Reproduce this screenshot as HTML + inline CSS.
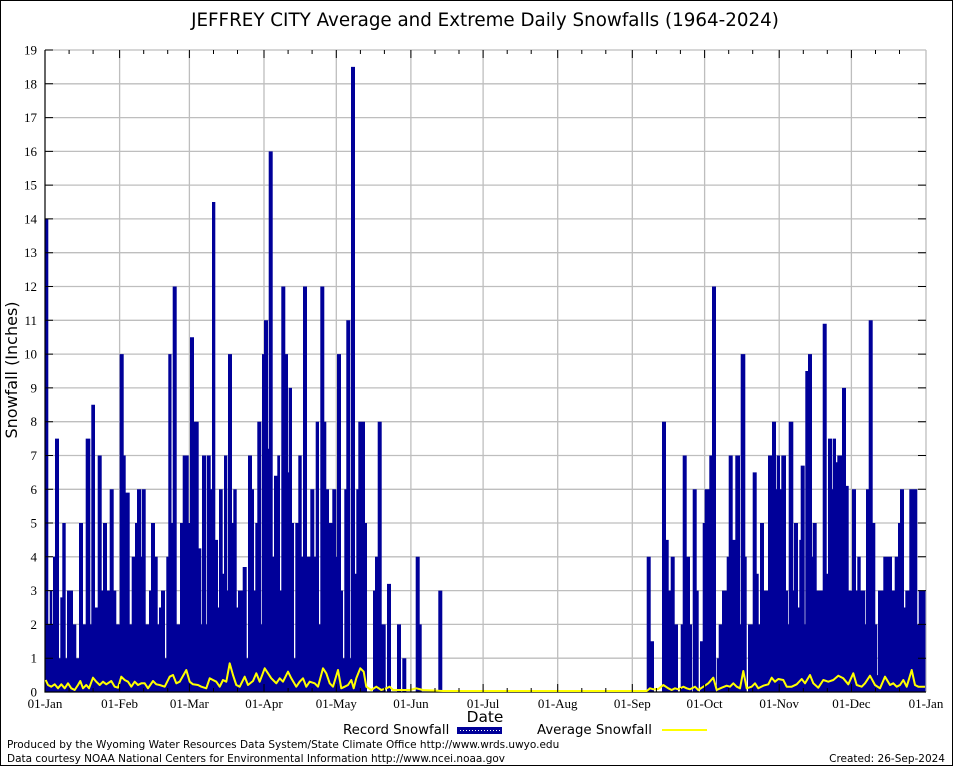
<!DOCTYPE html>
<html><head><meta charset="utf-8"><style>
html,body{margin:0;padding:0;background:#fff;}
svg{display:block;}
.t{font-family:"Liberation Serif",serif;font-size:13px;fill:#000;}
.s{font-family:"DejaVu Sans","Liberation Sans",sans-serif;fill:#000;}
</style></head><body>
<svg width="954" height="768" viewBox="0 0 954 768" xmlns="http://www.w3.org/2000/svg">
<defs>
<pattern id="hp" width="3" height="3" patternUnits="userSpaceOnUse">
<rect width="3" height="3" fill="#000099"/><rect x="1" y="1" width="1" height="1" fill="#fff"/>
</pattern>
</defs>
<rect x="0" y="0" width="954" height="768" fill="#fff"/>
<rect x="0.5" y="0.5" width="952" height="765" fill="none" stroke="#000" stroke-width="1"/>

<!-- grid -->
<g stroke="#bebebe" stroke-width="1.3" fill="none">
<path d="M45 658.2H926M45 624.4H926M45 590.6H926M45 556.8H926M45 523H926M45 489.3H926M45 455.5H926M45 421.7H926M45 387.9H926M45 354.1H926M45 320.3H926M45 286.5H926M45 252.7H926M45 218.9H926M45 185.1H926M45 151.4H926M45 117.6H926M45 83.8H926M45 50H926"/>
<path d="M119.6 50V692M189.4 50V692M264 50V692M336.3 50V692M410.9 50V692M483.1 50V692M557.7 50V692M632.3 50V692M704.6 50V692M779.2 50V692M851.4 50V692M926 50V692"/>
</g>

<!-- bars -->
<path fill="#000099" d="M45 692V218.9H48.3V624.4H49.7V590.6H52.3V624.4H53V556.8H55V438.6H59V658.2H60.3V597.4H62.3V523H65.7V658.2H67V590.6H73V624.4H76.3V658.2H79V523H83V624.4H85.7V438.6H90.3V624.4H91.3V404.8H95V607.5H97.7V455.5H101.7V590.6H103V523H107V590.6H109.7V489.3H113.7V590.6H116.3V624.4H119.7V354.1H123.7V455.5H125.7V492.6H129.7V624.4H131.7V556.8H135V523H137V489.3H141V556.8H141.7V489.3H145.7V624.4H149V590.6H151V523H155V556.8H157.7V624.4H159V607.5H161V590.6H165V658.2H166.3V556.8H168.3V354.1H171.5V523H172.7V286.5H176.7V624.4H180V523H182.7V455.5H188.7V523H190V337.2H194V421.7H198.7V548.4H201.3V624.4H202V455.5H206V624.4H206.7V455.5H210.7V489.3H212V202H215.3V539.9H218V607.5H219V489.3H222.7V573.7H224V455.5H227.3V590.6H228V354.1H232V523H233.3V489.3H236.7V607.5H238V590.6H242.7V567H246.7V658.2H248V455.5H252V489.3H254V590.6H255.3V523H257.3V421.7H261.3V624.4H262V354.1H264V320.3H268V448.7H268.7V151.4H272.7V556.8H274V475.7H277.3V455.5H280V590.6H281.3V286.5H285.3V354.1H288V472.4H288.7V387.9H292V523H294V658.2H295.3V523H298.3V455.5H301.7V556.8H303V286.5H307V556.8H310.3V489.3H314.3V556.8H315.7V421.7H319V624.4H320.3V286.5H324.3V421.7H326.3V489.3H329V523H332.3V489.3H336.3V556.8H337V354.1H341V590.6H343V658.2H344.3V489.3H346.3V320.3H350.3V658.2H351V66.9H355V573.7H356.3V489.3H358.3V421.7H365V523H367V692H373V590.6H375V556.8H377.7V421.7H381.7V624.4H385.7V692H387V583.9H391V692H397V624.4H401V692H402.3V658.2H406.3V692H415.7V556.8H419.7V624.4H421.7V692H438.3V590.6H442.3V692H646.7V556.8H650.7V641.3H654V692H662V421.7H666V539.9H668.7V590.6H670.7V556.8H674.7V624.4H678V692H680.7V624.4H682.7V455.5H686.7V556.8H690V624.4H692V692H692.7V489.3H696.7V590.6H698.7V692H700V641.3H702.7V523H704.7V489.3H709.3V455.5H712V286.5H716V692H716.7V658.2H718.7V624.4H722V590.6H726.7V556.8H728.7V455.5H732.7V539.9H735.3V455.5H740V624.4H740.7V354.1H745.3V556.8H746.7V692H748V624.4H752.7V472.4H756.7V573.7H758.7V624.4H760V523H764V590.6H768V455.5H772V421.7H776V489.3H776.7V455.5H780V489.3H781.3V455.5H786V590.6H788V624.4H788.7V421.7H793.3V590.6H794V523H798V607.5H799.3V539.9H800.7V465.6H804.7V624.4H805.3V371H808V354.1H812V556.8H812.7V523H816.7V590.6H822.7V323.7H826.7V573.7H828V438.6H832V489.3H832.7V438.6H836V462.2H837.3V455.5H842V387.9H846V485.9H848.7V590.6H852V489.3H856V590.6H857.3V556.8H860.7V590.6H865.3V624.4H866V489.3H868.7V320.3H872.7V523H875.3V624.4H877.3V675.1H878V590.6H883.3V556.8H892V590.6H894.7V556.8H898V523H900V489.3H904V607.5H905.3V590.6H909.3V489.3H917.3V624.4H918.7V590.6H925.5V692Z"/>

<!-- axes -->
<path d="M45 50V692.5M44.5 692H926" stroke="#000" stroke-width="1.2" fill="none"/>

<!-- average line -->
<polyline fill="none" stroke="#ffff00" stroke-width="2" stroke-linejoin="round" points="45.7,680 48,685 51.3,686.7 54.7,684.3 58,688.3 61.3,684.3 64.7,688.3 68,683.3 71.3,688.3 74.7,690 78,685 80.3,681 83,688.3 86.3,685 89,688.3 93,677.7 96.3,681.7 99.7,685 103,681.7 106.3,684.3 111.3,681 114.7,686.7 118,687.7 121.3,676.7 124.7,680 128,681.7 131.3,686.7 134.7,681.7 138,685 141.3,683.3 144.7,683.3 148,688.3 153,681 156.3,684.3 159.7,685 164.7,686.7 169.7,676.7 173,675 176.3,683.3 179.7,681.7 186.3,670 189.7,681.7 193,684.3 198,685 201.3,686.7 206.3,688.3 209.7,678.3 213,680 216.3,681.7 219.7,686.7 223,680 226.3,681.7 229.7,663.3 233,675 236.3,685 239.7,686.7 244.7,676.7 248,685 253,681 256.3,673.3 259.7,681.7 264.7,668.3 268,673.3 271.3,678.3 276.3,683.3 279.7,678.3 283,681.7 288,671.7 291.3,678.3 296.3,686.7 299.7,681.7 303,678.3 306.3,686.7 309.7,681.7 314.7,683.3 318,686.7 323,668.3 326.3,673.3 329.7,683.3 333,686.7 338,670 341.3,688.3 344.7,686.7 348,685 351.3,680 353.7,688.3 356.3,678.3 360.3,668.3 363.7,671.7 366.3,686.7 371.3,690 376.3,686.7 381.3,690 386.3,688.3 389.7,686.7 393,690 409.7,690 416.3,688.3 423,690 443,691 646.7,691 650,688.3 653.3,689.3 658.3,689 663.3,685 668.3,688.3 671.7,690 675,688.3 678.3,689.3 683.3,686.7 686.7,688.3 690,689.3 695,686.7 698.3,690 703.3,686.7 708.3,683.3 713.3,677.7 716.7,690 721.7,687.7 726.7,685.7 730,686.7 733.3,683.3 736.7,686.7 740,688.3 743.3,671 746.7,688.3 751.7,686.7 755,683.3 758.3,688.3 763.3,685.7 768.3,684.3 771.7,677.7 775,681.7 778.3,679 783.3,680 786.7,686.7 791.7,686.7 796.7,684.3 801.7,679 805,683.3 810,675 813.3,683.3 818.3,687.7 823.3,680 828.3,681.7 833.3,680 838.3,675.7 843.3,678.3 848.3,684.3 853.3,673.3 856.7,685 861.7,686.7 865,683.3 870,675.7 875,685 880,688.3 885,676.7 890,685 893.3,683.3 896.7,686.7 900,685 903.3,680 906.7,686.7 911.7,670 915,685 918.3,686.7 925,686.7"/>

<!-- ticks -->
<g stroke="#000" stroke-width="1" fill="none">
<path d="M45 658.2h8M45 624.4h8M45 590.6h8M45 556.8h8M45 523h8M45 489.3h8M45 455.5h8M45 421.7h8M45 387.9h8M45 354.1h8M45 320.3h8M45 286.5h8M45 252.7h8M45 218.9h8M45 185.1h8M45 151.4h8M45 117.6h8M45 83.8h8M45 50h8"/>
<path d="M926 658.2h-8M926 624.4h-8M926 590.6h-8M926 556.8h-8M926 523h-8M926 489.3h-8M926 455.5h-8M926 421.7h-8M926 387.9h-8M926 354.1h-8M926 320.3h-8M926 286.5h-8M926 252.7h-8M926 218.9h-8M926 185.1h-8M926 151.4h-8M926 117.6h-8M926 83.8h-8"/>
<path d="M119.6 692v-8M189.4 692v-8M264 692v-8M336.3 692v-8M410.9 692v-8M483.1 692v-8M557.7 692v-8M632.3 692v-8M704.6 692v-8M779.2 692v-8M851.4 692v-8"/>
<path d="M119.6 50v8M189.4 50v8M264 50v8M336.3 50v8M410.9 50v8M483.1 50v8M557.7 50v8M632.3 50v8M704.6 50v8M779.2 50v8M851.4 50v8"/>
<path d="M69.1 692v-4M93.1 692v-4M143.7 692v-4M167.7 692v-4M213.5 692v-4M237.5 692v-4M288.1 692v-4M312.1 692v-4M360.4 692v-4M384.4 692v-4M435 692v-4M459 692v-4M507.2 692v-4M531.2 692v-4M581.8 692v-4M605.8 692v-4M656.4 692v-4M680.4 692v-4M728.7 692v-4M752.7 692v-4M803.3 692v-4M827.3 692v-4M875.5 692v-4M899.5 692v-4"/>
<path d="M69.1 50v4M93.1 50v4M143.7 50v4M167.7 50v4M213.5 50v4M237.5 50v4M288.1 50v4M312.1 50v4M360.4 50v4M384.4 50v4M435 50v4M459 50v4M507.2 50v4M531.2 50v4M581.8 50v4M605.8 50v4M656.4 50v4M680.4 50v4M728.7 50v4M752.7 50v4M803.3 50v4M827.3 50v4M875.5 50v4M899.5 50v4"/>
</g>

<!-- y tick labels -->
<g class="t" text-anchor="end">
<text x="37" y="696.5">0</text>
<text x="37" y="662.7">1</text>
<text x="37" y="628.9">2</text>
<text x="37" y="595.1">3</text>
<text x="37" y="561.3">4</text>
<text x="37" y="527.5">5</text>
<text x="37" y="493.8">6</text>
<text x="37" y="460">7</text>
<text x="37" y="426.2">8</text>
<text x="37" y="392.4">9</text>
<text x="37" y="358.6">10</text>
<text x="37" y="324.8">11</text>
<text x="37" y="291">12</text>
<text x="37" y="257.2">13</text>
<text x="37" y="223.4">14</text>
<text x="37" y="189.6">15</text>
<text x="37" y="155.9">16</text>
<text x="37" y="122.1">17</text>
<text x="37" y="88.3">18</text>
<text x="37" y="54.5">19</text>
</g>

<!-- x tick labels -->
<g class="t" text-anchor="middle">
<text x="45" y="708">01-Jan</text>
<text x="119.6" y="708">01-Feb</text>
<text x="189.4" y="708">01-Mar</text>
<text x="264" y="708">01-Apr</text>
<text x="336.3" y="708">01-May</text>
<text x="410.9" y="708">01-Jun</text>
<text x="483.1" y="708">01-Jul</text>
<text x="557.7" y="708">01-Aug</text>
<text x="632.3" y="708">01-Sep</text>
<text x="704.6" y="708">01-Oct</text>
<text x="779.2" y="708">01-Nov</text>
<text x="851.4" y="708">01-Dec</text>
<text x="926" y="708">01-Jan</text>
</g>

<!-- title & labels -->
<text class="s" x="485" y="26" font-size="18.3" text-anchor="middle">JEFFREY CITY Average and Extreme Daily Snowfalls (1964-2024)</text>
<text class="s" font-size="16" text-anchor="middle" transform="translate(17,370) rotate(-90)">Snowfall (Inches)</text>
<text class="s" x="485" y="722" font-size="15.4" text-anchor="middle">Date</text>

<!-- legend -->
<text class="s" x="343" y="734" font-size="13.3">Record Snowfall</text>
<rect x="457.5" y="727.5" width="44" height="6" fill="url(#hp)" stroke="#000099" stroke-width="1"/>
<text class="s" x="537" y="734" font-size="13.3">Average Snowfall</text>
<line x1="662" y1="730" x2="707" y2="730" stroke="#ffff00" stroke-width="2"/>

<!-- footer -->
<text class="s" x="7" y="748" font-size="10.5">Produced by the Wyoming Water Resources Data System/State Climate Office http://www.wrds.uwyo.edu</text>
<text class="s" x="7" y="762" font-size="10.5">Data courtesy NOAA National Centers for Environmental Information http://www.ncei.noaa.gov</text>
<text class="s" x="945" y="762" font-size="10.5" text-anchor="end">Created: 26-Sep-2024</text>
</svg>
</body></html>
